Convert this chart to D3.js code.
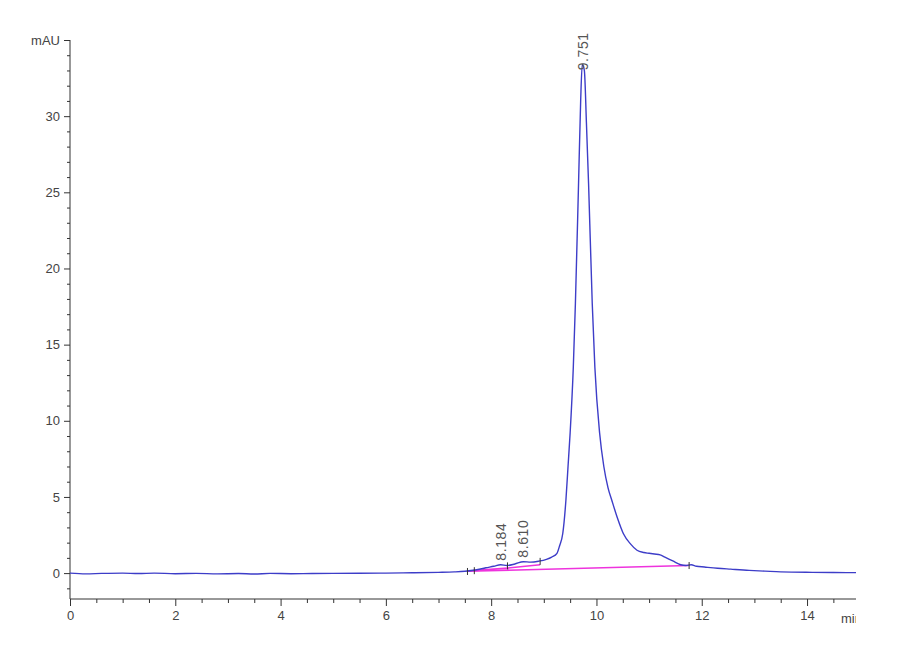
<!DOCTYPE html>
<html>
<head>
<meta charset="utf-8">
<script src="https://cdn.jsdelivr.net/npm/d3@7"></script>
<style>
  body { margin: 0; background: #fff; }
  #chart text { font-family: "Liberation Sans", Arial, sans-serif; fill: #444; }
</style>
</head>
<body>
<div id="chart"></div>
<script>
// Chromatogram trace (min, mAU)
const traceTime = [0, 0.3, 0.6, 1.0, 1.3, 1.6, 2.0, 2.4, 2.8, 3.2, 3.5, 3.8, 4.2, 4.6, 5.0, 5.5, 6.0, 6.5,
  7.0, 7.3, 7.5, 7.7, 7.9, 8.05, 8.18, 8.3, 8.45, 8.61, 8.75, 8.9, 9.05, 9.15, 9.25, 9.3, 9.36, 9.42,
  9.46, 9.5, 9.56, 9.6, 9.66, 9.7, 9.73, 9.77, 9.81, 9.85, 9.92, 9.97, 10.06, 10.14, 10.22, 10.29, 10.4,
  10.51, 10.65, 10.77, 10.9, 11.0, 11.1, 11.21, 11.3, 11.45, 11.6, 11.7, 11.8, 11.9, 12.05, 12.3,
  12.55, 12.9, 13.2, 13.5, 14.1, 14.5, 14.93];
const traceSignal = [0, -0.05, -0.02, 0, -0.03, 0, -0.04, -0.02, -0.05, -0.03, -0.06, -0.02, -0.04, -0.03,
  -0.02, -0.01, 0, 0.02, 0.05, 0.08, 0.12, 0.2, 0.35, 0.45, 0.55, 0.5, 0.6, 0.75, 0.72, 0.78, 0.9,
  1.05, 1.3, 1.8, 2.6, 4.8, 7.0, 9.2, 13.5, 17.7, 25.6, 31, 33.4, 33.0, 29.5, 25.6, 17.7, 13.5, 9.2,
  7.0, 5.6, 4.8, 3.6, 2.6, 1.9, 1.5, 1.35, 1.3, 1.25, 1.2, 1.05, 0.8, 0.55, 0.5, 0.55, 0.45, 0.4, 0.32,
  0.26, 0.18, 0.13, 0.08, 0.05, 0.04, 0.03];

// Integrated peaks
const peakLabels = ["8.184", "8.610", "9.751"];
const peakApexTime = [8.184, 8.61, 9.751];
const peakApexSignal = [0.55, 0.75, 33.4];

// Integration baselines [t0, v0, t1, v1]
const baselineSegments = [
  [7.55, 0.12, 11.75, 0.5],
  [7.66, 0.16, 8.31, 0.33],
  [8.31, 0.33, 8.93, 0.55]
];
// Peak start/end markers
const markerTimes = [7.55, 7.68, 8.31, 8.93, 11.76];

const xMajor = [0, 2, 4, 6, 8, 10, 12, 14];
const yMajor = [0, 5, 10, 15, 20, 25, 30];

const W = 900, H = 660;
const svg = d3.select("#chart").append("svg").attr("width", W).attr("height", H);

const x = d3.scaleLinear().domain([0, 14.93]).range([70, 856]);
const y = d3.scaleLinear().domain([-1.7, 35]).range([599, 40]);

const xMinor = d3.range(0, 15, 0.5).filter(v => v % 2 !== 0);
const yMinor = d3.range(-1, 36, 1).filter(v => v % 5 !== 0);

const axisStyle = g => {
  g.select(".domain").remove();
  g.selectAll("line").attr("stroke", "#333").attr("stroke-width", 1);
  g.selectAll("text").attr("font-size", 13);
};

// x axis
svg.append("g").attr("transform", "translate(0,599)")
  .call(d3.axisBottom(x).tickValues(xMinor).tickSize(4).tickFormat(""))
  .call(axisStyle);
svg.append("g").attr("transform", "translate(0,599)")
  .call(d3.axisBottom(x).tickValues(xMajor).tickSize(7).tickPadding(5).tickFormat(d3.format("d")))
  .call(axisStyle);
svg.append("line").attr("x1", 70).attr("x2", 856).attr("y1", 599).attr("y2", 599)
  .attr("stroke", "#333");

// y axis
svg.append("g").attr("transform", "translate(70,0)")
  .call(d3.axisLeft(y).tickValues(yMinor).tickSize(3).tickFormat(""))
  .call(axisStyle);
svg.append("g").attr("transform", "translate(70,0)")
  .call(d3.axisLeft(y).tickValues(yMajor.concat([35])).tickSize(6).tickPadding(4)
    .tickFormat(d => d === 35 ? "mAU" : d))
  .call(axisStyle);
svg.append("line").attr("x1", 70).attr("x2", 70).attr("y1", 40).attr("y2", 599)
  .attr("stroke", "#333");

// unit label, clipped at the right edge like the source
svg.append("clipPath").attr("id", "clipR").append("rect")
  .attr("x", 0).attr("y", 0).attr("width", 856).attr("height", H);
svg.append("text").attr("x", 841).attr("y", 623).attr("font-size", 13)
  .attr("clip-path", "url(#clipR)").text("min");

// baselines
svg.append("g").selectAll("line").data(baselineSegments).join("line")
  .attr("x1", d => x(d[0])).attr("y1", d => y(d[1]))
  .attr("x2", d => x(d[2])).attr("y2", d => y(d[3]))
  .attr("stroke", "#ee33dd").attr("stroke-width", 1.6);

// trace
const trace = traceTime.map((t, i) => [t, traceSignal[i]]);
svg.append("path").datum(trace)
  .attr("fill", "none").attr("stroke", "#3d3dc8").attr("stroke-width", 1.4)
  .attr("stroke-linejoin", "round")
  .attr("d", d3.line().x(d => x(d[0])).y(d => y(d[1])).curve(d3.curveMonotoneX));

// peak boundary markers
const interp = t => {
  const i = d3.bisectLeft(traceTime, t);
  if (i <= 0) return traceSignal[0];
  const t0 = traceTime[i - 1], t1 = traceTime[i];
  return traceSignal[i - 1] + (traceSignal[i] - traceSignal[i - 1]) * (t - t0) / (t1 - t0);
};
svg.append("g").selectAll("line").data(markerTimes).join("line")
  .attr("x1", d => x(d)).attr("x2", d => x(d))
  .attr("y1", d => y(interp(d)) - 3).attr("y2", d => y(interp(d)) + 4)
  .attr("stroke", "#333").attr("stroke-width", 1);

// peak labels
svg.append("g").selectAll("text").data(peakLabels).join("text")
  .attr("transform", (d, i) => {
    const off = i === 2 ? 6 : -4;
    return `translate(${x(peakApexTime[i]) + 5},${y(peakApexSignal[i]) + off}) rotate(-90)`;
  })
  .attr("font-size", 14)
  .attr("letter-spacing", 0.6)
  .style("fill", "#555")
  .text(d => d);
</script>
</body>
</html>
